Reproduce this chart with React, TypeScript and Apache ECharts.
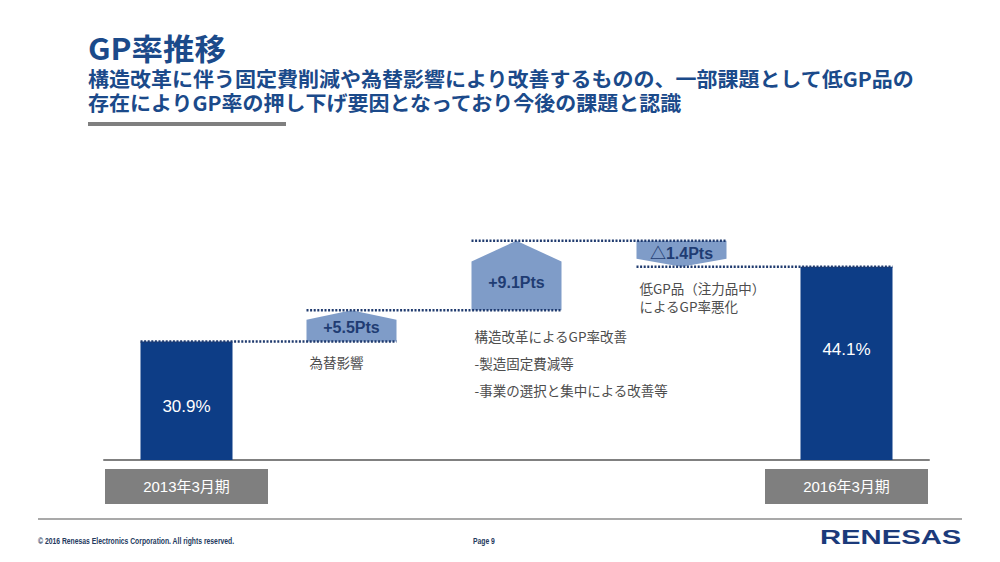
import React, { useEffect, useRef } from "react";
import * as echarts from "echarts";

// ---- data ----
const periods = ["2013年3月期", "2016年3月期"];
const gpRates = [30.9, 44.1];
const stepNames = ["為替影響", "構造改革", "低GP品"];
const stepValues = [5.5, 9.1, -1.4];
const stepLabels = ["+5.5Pts", "+9.1Pts", "△1.4Pts"];
const stepNotes = [
  ["為替影響"],
  ["構造改革によるGP率改善", "-製造固定費減等", "-事業の選択と集中による改善等"],
  ["低GP品（注力品中）", "によるGP率悪化"],
];
const titleText = "GP率推移";
const subtitleLines = [
  "構造改革に伴う固定費削減や為替影響により改善するものの、一部課題として低GP品の",
  "存在によりGP率の押し下げ要因となっており今後の課題と認識",
];
const footerText = "© 2016 Renesas Electronics Corporation. All rights reserved.";
const pageText = "Page 9";
const logoText = "RENESAS";

// ---- styles ----
const NAVY = "#0d3d86";
const TITLE_COLOR = "#1b4a8a";
const SHAPE_FILL = "#7f9cc8";
const SHAPE_TEXT = "#1f3c73";
const DOT_COLOR = "#1f3a6e";
const NOTE_COLOR = "#4d4d4d";
const BAR_W = 92;
const SHAPE_W = 90;
const MIN_DOWN = 26;
const NOTE_LH = [18, 27, 18];
const CJK = "'Noto Sans CJK JP', 'Noto Sans', sans-serif";
const ARIAL = "'Liberation Sans', Arial, 'Noto Sans CJK JP', sans-serif";

const categories = [periods[0], ...stepNames, periods[1]];

export default function App() {
  const ref = useRef<HTMLDivElement>(null);

  useEffect(() => {
    if (!ref.current) return;
    const chart = echarts.init(ref.current, undefined, { renderer: "svg" });
    const last = categories.length - 1;

    const barData = categories.map((_, i) => {
      if (i === 0) return { value: gpRates[0], label: { offset: [0, 6] } };
      if (i === last) return { value: gpRates[1], label: { offset: [0, -14] } };
      return "-";
    });

    const dotStyle = { stroke: DOT_COLOR, lineWidth: 2.5, lineDash: [2, 1.6] };

    const renderItem = (params: any, api: any) => {
      const k = params.dataIndex;
      const cum = [gpRates[0]];
      stepValues.forEach((v) => cum.push(+(cum[cum.length - 1] + v).toFixed(2)));
      const lp = cum.map((v) => api.coord([0, v])[1]);
      for (let j = 0; j < stepValues.length; j++) {
        if (stepValues[j] < 0 && lp[j + 1] - lp[j] < MIN_DOWN) lp[j] = lp[j + 1] - MIN_DOWN;
      }
      const cx = api.coord([k + 1, 0])[0];
      const half = SHAPE_W / 2;
      const x0 = cx - half;
      const x1 = cx + half;
      const up = stepValues[k] >= 0;
      const top = Math.min(lp[k], lp[k + 1]);
      const bottom = Math.max(lp[k], lp[k + 1]);
      const h = bottom - top;
      const roof = h * 0.3;
      const points = up
        ? [[x0, bottom], [x0, top + roof], [cx, top], [x1, top + roof], [x1, bottom]]
        : [[x0, top], [x1, top], [x1, bottom - roof], [cx, bottom], [x0, bottom - roof]];
      const labelY = up ? (bottom + top + roof) / 2 - 3 : (top + bottom) / 2;
      const prevCx = api.coord([k, 0])[0];
      const prevHalf = k === 0 ? BAR_W / 2 : half;
      const children: any[] = [
        { type: "polygon", shape: { points }, style: { fill: SHAPE_FILL } },
        {
          type: "line",
          shape: { x1: prevCx - prevHalf, y1: lp[k], x2: x1, y2: lp[k] },
          style: dotStyle,
        },
        {
          type: "text",
          style: {
            text: stepLabels[k],
            x: cx,
            y: labelY,
            align: "center",
            verticalAlign: "middle",
            fill: SHAPE_TEXT,
            fontSize: 16,
            fontWeight: "bold",
            fontFamily: ARIAL,
          },
        },
        {
          type: "text",
          style: {
            text: stepNotes[k].join("\n"),
            x: x0 + 3,
            y: bottom + 12,
            align: "left",
            verticalAlign: "top",
            lineHeight: NOTE_LH[k],
            fill: NOTE_COLOR,
            fontSize: 13.5,
            fontFamily: CJK,
          },
        },
      ];
      if (k === stepValues.length - 1) {
        const nextCx = api.coord([k + 2, 0])[0];
        children.push({
          type: "line",
          shape: { x1: x0, y1: lp[k + 1], x2: nextCx + BAR_W / 2, y2: lp[k + 1] },
          style: dotStyle,
        });
      }
      return { type: "group", children };
    };

    chart.setOption({
      animation: false,
      backgroundColor: "#ffffff",
      grid: { left: 104, right: 71, top: 233.2, bottom: 102 },
      xAxis: {
        type: "category",
        data: categories,
        boundaryGap: true,
        axisLine: { show: true, onZero: false, lineStyle: { color: "#808080", width: 2 } },
        axisTick: { show: false },
        splitLine: { show: false },
        axisLabel: {
          interval: 0,
          margin: 9,
          formatter: (v: string, i: number) => (i === 0 || i === last ? `{box|${v}}` : ""),
          rich: {
            box: {
              backgroundColor: "#7f7f7f",
              color: "#ffffff",
              width: 163,
              height: 35,
              lineHeight: 35,
              align: "center",
              fontSize: 15,
              fontFamily: ARIAL,
            },
          },
        },
      },
      yAxis: { type: "value", min: 10, max: 50, show: false, splitLine: { show: false } },
      series: [
        {
          type: "bar",
          data: barData,
          barWidth: BAR_W,
          itemStyle: { color: NAVY },
          label: {
            show: true,
            position: "inside",
            formatter: (p: any) => `${p.value}%`,
            color: "#ffffff",
            fontSize: 17,
            fontFamily: ARIAL,
          },
          z: 2,
        },
        {
          type: "custom",
          data: stepValues.map((v, i) => [i + 1, v]),
          renderItem,
          z: 3,
        },
      ],
      graphic: [
        {
          type: "text",
          x: 88,
          y: 47,
          scaleX: 1.05,
          style: {
            text: titleText,
            fill: TITLE_COLOR,
            fontSize: 30,
            fontWeight: "bold",
            fontFamily: CJK,
            verticalAlign: "middle",
          },
        },
        ...subtitleLines.map((t, i) => ({
          type: "text",
          x: 88,
          y: 78 + i * 24.5,
          scaleX: 1.05,
          style: {
            text: t,
            fill: TITLE_COLOR,
            fontSize: 20,
            fontWeight: "bold",
            fontFamily: CJK,
            verticalAlign: "middle",
          },
        })),
        { type: "rect", shape: { x: 88, y: 122, width: 198, height: 4 }, style: { fill: "#7f7f7f" } },
        {
          type: "line",
          shape: { x1: 38, y1: 519, x2: 962, y2: 519 },
          style: { stroke: "#8c8c8c", lineWidth: 1.5 },
        },
        {
          type: "text",
          x: 38,
          y: 541,
          scaleX: 0.8,
          style: {
            text: footerText,
            fill: "#23395d",
            fontSize: 8.5,
            fontWeight: "bold",
            fontFamily: ARIAL,
            verticalAlign: "middle",
          },
        },
        {
          type: "text",
          x: 473,
          y: 541,
          scaleX: 0.8,
          style: {
            text: pageText,
            fill: "#23395d",
            fontSize: 8.5,
            fontWeight: "bold",
            fontFamily: ARIAL,
            verticalAlign: "middle",
          },
        },
        {
          type: "text",
          x: 820,
          y: 537,
          scaleX: 1.5,
          style: {
            text: logoText,
            fill: "#1b3a7a",
            fontSize: 19.5,
            fontWeight: "bold",
            fontFamily: ARIAL,
            verticalAlign: "middle",
          },
        },
      ],
    });

    return () => chart.dispose();
  }, []);

  return (
    <div
      ref={ref}
      style={{ position: "absolute", left: 0, top: 0, width: 1000, height: 562, background: "#fff" }}
    />
  );
}
